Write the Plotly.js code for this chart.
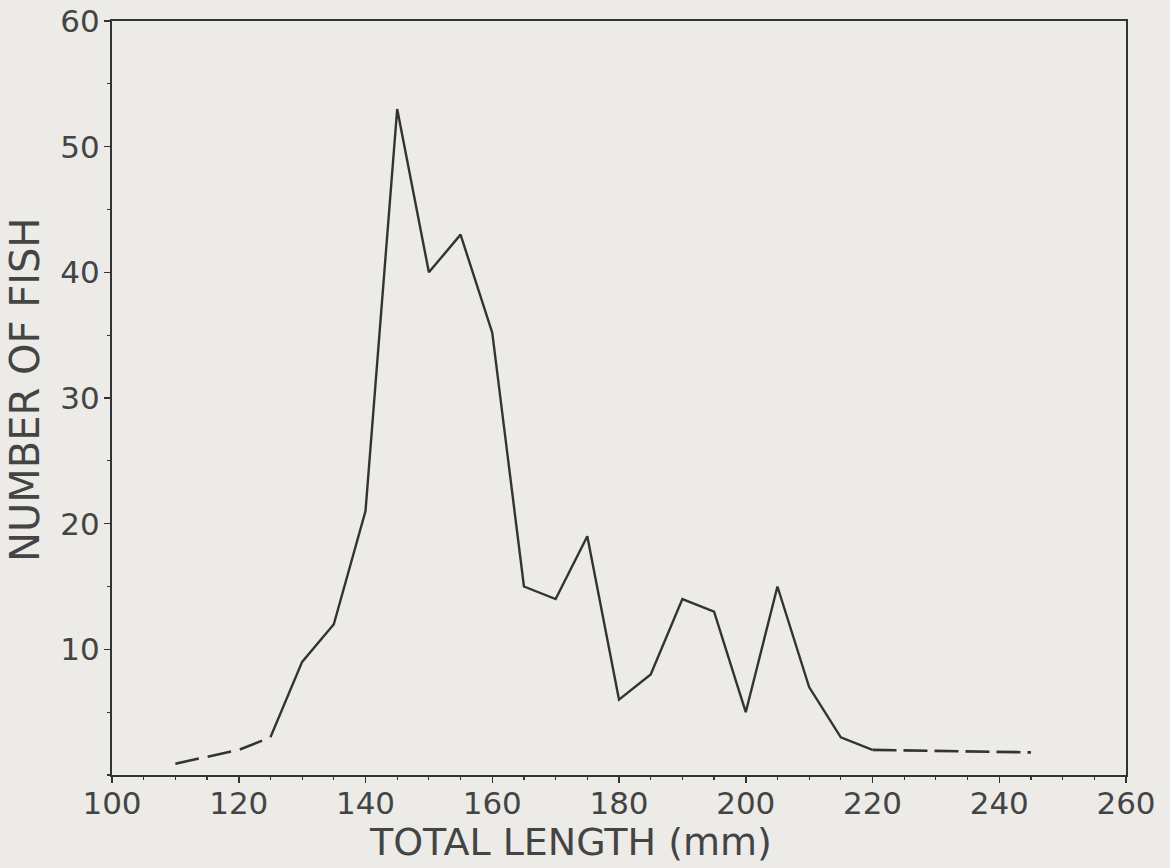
<!DOCTYPE html>
<html>
<head>
<meta charset="utf-8">
<script src="https://cdn.plot.ly/plotly-3.0.1.min.js"></script>
<style>
html,body{margin:0;padding:0;background:#ecebe8;}
#chart{width:1170px;height:868px;}
</style>
</head>
<body>
<div id="chart"></div>
<script>
// Total length (mm) and number of fish
const lengthSolid = [125, 130, 135, 140, 145, 150, 155, 160, 165, 170, 175, 180, 185, 190, 195, 200, 205, 210, 215, 220];
const fishSolid   = [3, 9, 12, 21, 53, 40, 43, 35.2, 15, 14, 19, 6, 8, 14, 13, 5, 15, 7, 3, 2];
const lengthDashLeft = [110, 120, 125];
const fishDashLeft   = [0.9, 2, 3];
const lengthDashRight = [220, 245];
const fishDashRight   = [2, 1.8];
const xTickVals = [100, 120, 140, 160, 180, 200, 220, 240, 260];
const yTickVals = [10, 20, 30, 40, 50, 60];
const xTitle = 'TOTAL LENGTH (mm)';
const yTitle = 'NUMBER OF FISH';

const ink = '#333333';
const txt = '#444444';
const fontFam = '"DejaVu Sans", sans-serif';

const traces = [
  {x: lengthSolid, y: fishSolid, mode: 'lines', line: {color: ink, width: 2.4}},
  {x: lengthDashLeft, y: fishDashLeft, mode: 'lines', line: {color: ink, width: 2.6, dash: '24px,9px'}},
  {x: lengthDashRight, y: fishDashRight, mode: 'lines', line: {color: ink, width: 2.6, dash: '24px,7px'}},
  // invisible copy so that the tick-mark overlay axes are drawn
  {x: lengthSolid, y: fishSolid, xaxis: 'x2', yaxis: 'y2', mode: 'lines',
   line: {color: 'rgba(0,0,0,0)', width: 0}, hoverinfo: 'skip'}
];

const tickStyle = {ticklen: 7, tickwidth: 1.5, tickcolor: ink};

const layout = {
  width: 1170, height: 868,
  paper_bgcolor: '#ecebe8', plot_bgcolor: '#ecebe8',
  showlegend: false,
  margin: {l: 112, r: 44, t: 21, b: 93},
  font: {family: fontFam, color: txt},
  xaxis: {
    range: [100, 260], tickvals: xTickVals, ticktext: xTickVals.map(String),
    ticks: '', ticklabelstandoff: 0,
    showline: true, linecolor: ink, linewidth: 2, mirror: true,
    showgrid: false, zeroline: false,
    tickfont: {size: 31, family: fontFam, color: txt}
  },
  yaxis: {
    range: [0, 60], tickvals: yTickVals, ticktext: yTickVals.map(String),
    ticks: '', ticklabelstandoff: 4,
    showline: true, linecolor: ink, linewidth: 2, mirror: true,
    showgrid: false, zeroline: false,
    tickfont: {size: 31, family: fontFam, color: txt}
  },
  xaxis2: {
    overlaying: 'x', anchor: 'y', side: 'bottom', range: [100, 260],
    tickvals: xTickVals, ticks: 'outside', ...tickStyle, showticklabels: false,
    minor: {dtick: 5, tick0: 100, ticks: 'outside', ticklen: 4, tickwidth: 1.2, tickcolor: ink},
    showline: false, showgrid: false, zeroline: false
  },
  yaxis2: {
    overlaying: 'y', anchor: 'x', side: 'left', range: [0, 60],
    tickvals: yTickVals, ticks: 'outside', ...tickStyle, showticklabels: false,
    minor: {dtick: 5, tick0: 0, ticks: 'outside', ticklen: 4, tickwidth: 1.2, tickcolor: ink},
    showline: false, showgrid: false, zeroline: false
  },
  annotations: [
    {text: xTitle, xref: 'paper', yref: 'paper', x: 0.4517, y: -0.0889,
     xanchor: 'center', yanchor: 'middle', showarrow: false,
     font: {size: 38, family: fontFam, color: txt}},
    {text: yTitle, xref: 'paper', yref: 'paper', x: -0.0858, y: 0.5106, textangle: -90,
     xanchor: 'center', yanchor: 'middle', showarrow: false,
     font: {size: 40, family: fontFam, color: txt}}
  ]
};

Plotly.newPlot('chart', traces, layout, {displayModeBar: false, staticPlot: true});
</script>
</body>
</html>
